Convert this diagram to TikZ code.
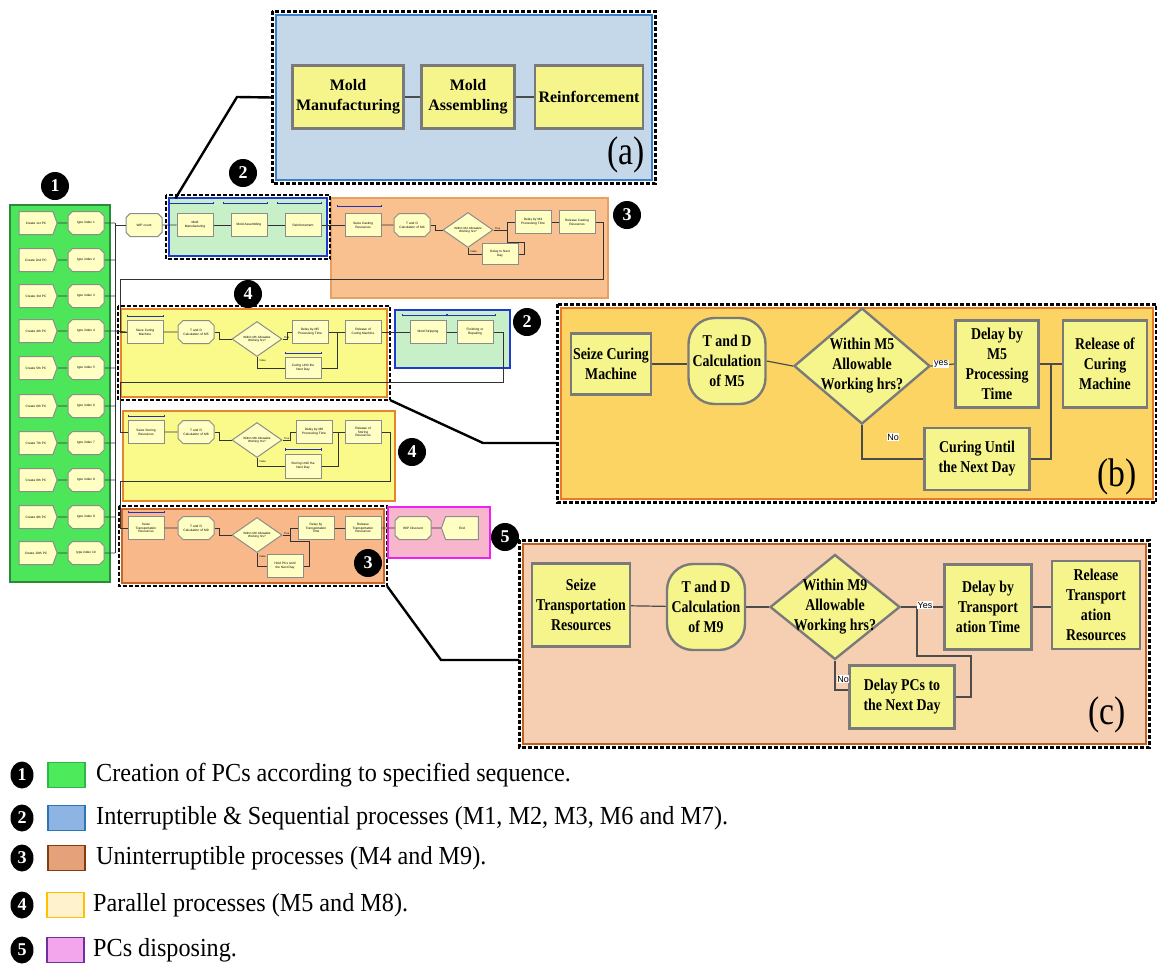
\documentclass[tikz,border=0pt]{standalone}
\usepackage{fontspec}
\setmainfont{Liberation Serif}
\newfontfamily\arialf{Liberation Sans}
\newfontfamily\condserif{Liberation Serif}[FakeStretch=0.84]
\newfontfamily\legserif{Liberation Serif}[FakeStretch=0.93]
\usetikzlibrary{shapes.geometric,shapes.misc,shapes.symbols,arrows.meta,calc}
\definecolor{gfill}{HTML}{4DE65A}
\definecolor{gline}{HTML}{2B8A3E}
\definecolor{afill}{HTML}{C5D8EA}
\definecolor{aline}{HTML}{3A7DC9}
\definecolor{lgfill}{HTML}{C8F0C8}
\definecolor{bluel}{HTML}{1E3ACF}
\definecolor{ofill}{HTML}{F9C18F}
\definecolor{oline}{HTML}{D2691E}
\definecolor{yfill}{HTML}{FAFA8A}
\definecolor{yline}{HTML}{E8842E}
\definecolor{rfill}{HTML}{F8B88A}
\definecolor{rline}{HTML}{C86428}
\definecolor{pfill}{HTML}{F7B6CB}
\definecolor{pline}{HTML}{F020F0}
\definecolor{bfill}{HTML}{FCD463}
\definecolor{bline}{HTML}{E8782A}
\definecolor{cfill}{HTML}{F6CFB2}
\definecolor{cline}{HTML}{C0601E}
\definecolor{bigfill}{HTML}{F5F58C}
\definecolor{biggray}{HTML}{7A7A7A}
\definecolor{minifill}{HTML}{FFFFC4}
\definecolor{minigray}{HTML}{8C8C8C}
\definecolor{wirec}{HTML}{333333}
\definecolor{barc}{HTML}{2030C0}
\definecolor{lgreenL}{HTML}{2DB84A}
\definecolor{lgreenF}{HTML}{4DEB5C}
\definecolor{lblueL}{HTML}{2E75B6}
\definecolor{lblueF}{HTML}{8DB4E2}
\definecolor{lbrownL}{HTML}{843C0C}
\definecolor{lbrownF}{HTML}{E5A27A}
\definecolor{lgoldL}{HTML}{FFC000}
\definecolor{lgoldF}{HTML}{FFF2CC}
\definecolor{lpurpL}{HTML}{7030A0}
\definecolor{lpurpF}{HTML}{F4A6EC}
\begin{document}
\begin{tikzpicture}[x=1pt,y=-1pt,
  mini/.style={draw=minigray, line width=1pt, fill=minifill, font=\arialf\fontsize{3.2}{3.7}\selectfont, align=center, inner sep=0.5pt, minimum width=36pt, minimum height=23pt, text width=33pt},
  minich/.style={mini, chamfered rectangle, chamfered rectangle xsep=2.5pt, chamfered rectangle ysep=2.5pt, text width=29pt},
  createp/.style={mini, signal, signal to=east, signal pointer angle=140, text width=26pt, minimum width=38pt},
  dispo/.style={mini, signal, signal to=west, signal pointer angle=140, text width=26pt, minimum width=37pt},
  minid/.style={draw=minigray, line width=1pt, fill=minifill, diamond, minimum width=50pt, minimum height=35pt, inner sep=0pt},
  minidt/.style={font=\arialf\fontsize{3}{3.5}\selectfont, align=center, inner sep=0pt, text width=30pt},
  wire/.style={draw=wirec, line width=0.8pt},
  tinyl/.style={font=\arialf\fontsize{2.6}{3}\selectfont, inner sep=0.3pt},
  bbar/.style={draw=barc, line width=0.8pt, {Bar[width=2.5pt]}-{Bar[width=2.5pt]}},
  big/.style={draw=biggray, line width=2.4pt, fill=bigfill, font=\condserif\bfseries\fontsize{16.5}{20}\selectfont, align=center, inner sep=1pt},
  biga/.style={big, font=\bfseries\fontsize{16}{20}\selectfont},
  bigw/.style={draw=black!70, line width=1.2pt},
  lab/.style={fill=white, font=\arialf\fontsize{9}{10}\selectfont, inner sep=0.6pt},
  frame/.style={line width=1.2pt, inner sep=0pt},
  dashf/.style={draw=black, line width=2.6pt, dash pattern=on 4pt off 2pt},
  badge/.style={circle, fill=black, text=white, font=\bfseries\fontsize{18}{18}\selectfont, inner sep=0pt, minimum size=28pt},
  lbadge/.style={ellipse, fill=black, text=white, font=\bfseries\fontsize{18}{18}\selectfont, inner sep=0pt, minimum width=23pt, minimum height=27pt},
  lsq/.style={line width=1.8pt, minimum width=37pt, minimum height=25pt, inner sep=0pt},
  ltext/.style={anchor=west, font=\legserif\fontsize{26}{27}\selectfont, inner sep=0pt},
  callout/.style={draw=black, line width=2.4pt},
  letter/.style={font=\condserif\fontsize{40}{40}\selectfont, inner sep=0pt}
]
\useasboundingbox (0,0) rectangle (1157,970);
\fill[white] (0,0) rectangle (1157,970);

% ---------- frames ----------
\node[frame, draw=gline, fill=gfill, minimum width=100pt, minimum height=377pt] (fg) at (60,393.5) {};
\node[frame, draw=ofill!60!oline, fill=ofill, minimum width=277pt, minimum height=100pt] (f3) at (469.5,248) {};
\node[frame, draw=bluel, fill=lgfill, minimum width=158pt, minimum height=58pt] (f2) at (248,227) {};
\draw[dashf] ([shift={(-2.5pt,2.5pt)}]f2.north west) rectangle ([shift={(2.5pt,-2.5pt)}]f2.south east);
\node[frame, draw=yline, fill=yfill, minimum width=266pt, minimum height=88pt] (f4) at (254,353) {};
\draw[dashf] ([shift={(-2.5pt,2.5pt)}]f4.north west) rectangle ([shift={(2.5pt,-2.5pt)}]f4.south east);
\node[frame, draw=bluel, fill=lgfill, minimum width=115pt, minimum height=58pt] (f6) at (452.5,339) {};
\node[frame, draw=yline, fill=yfill, minimum width=272pt, minimum height=90pt] (f8) at (259,456) {};
\node[frame, draw=rline, fill=rfill, minimum width=262pt, minimum height=74pt] (f9) at (253,546) {};
\draw[dashf] ([shift={(-2.5pt,2.5pt)}]f9.north west) rectangle ([shift={(2.5pt,-2.5pt)}]f9.south east);
\node[frame, draw=pline, fill=pfill, minimum width=102pt, minimum height=51pt] (f5) at (439,532.5) {};

\node[frame, draw=aline, fill=afill, minimum width=376pt, minimum height=165pt] (fa) at (464,97.5) {};
\draw[dashf] ([shift={(-3pt,3pt)}]fa.north west) rectangle ([shift={(3pt,-3pt)}]fa.south east);
\node[frame, draw=bline, fill=bfill, minimum width=592pt, minimum height=191pt] (fb) at (857,403.5) {};
\draw[dashf] ([shift={(-3pt,3pt)}]fb.north west) rectangle ([shift={(3pt,-3pt)}]fb.south east);
\node[frame, draw=cline, fill=cfill, minimum width=623pt, minimum height=200pt] (fc) at (834.5,644) {};
\draw[dashf] ([shift={(-3pt,3pt)}]fc.north west) rectangle ([shift={(3pt,-3pt)}]fc.south east);

% ---------- callouts ----------
\coordinate (ka) at (237,97);
\draw[callout] ([shift={(7pt,-1pt)}]f2.north west) -- (ka) -- ([xshift=-3pt]fa.west);
\coordinate (kb) at (483,443);
\draw[callout] ([shift={(2.5pt,-2.5pt)}]f4.south east) -- (kb) -- ([xshift=-3pt]kb -| fb.west);
\coordinate (kc) at (441,660);
\draw[callout] ([shift={(2.5pt,-2.5pt)}]f9.south east) -- (kc) -- ([xshift=-3pt]kc -| fc.west);

% ---------- left column ----------
\foreach \i/\y/\s in {1/223/1st,2/260/2nd,3/296/3rd,4/331/4th,5/368/5th,6/406/6th,7/443/7th,8/480/8th,9/517/9th,10/553/10th} {
  \node[createp] (cr\i) at (36,\y) {Create \s{} PC};
  \node[minich] (ti\i) at (86,\y) {type index \i};
  \coordinate (bus\i) at (115,\y);
  \draw[wire] (cr\i) -- (ti\i);
  \draw[wire] (ti\i) -- (bus\i);
}
\draw[wire] (bus1) -- (bus10);

% ---------- row 1 ----------
\node[minich] (wip) at (144,225) {WIP count};
\node[mini] (mm) at (195,225) {Mold\\Manufacturing};
\node[mini] (ma) at (249,225) {Mold Assembling};
\node[mini] (rf) at (303,225) {Reinforcement};
\node[mini] (sc) at (363,225) {Seize Casting\\Resources};
\node[minich] (td4) at (412,225) {T and D\\Calculation of M4};
\node[minid] (d4) at (468,230) {};
\node[minidt] (d4t) at (d4) {Within M4 Allowable\\Working hrs?};
\node[mini] (dl4) at (533,222) {Delay by M4\\Processing Time};
\node[mini] (rl4) at (577,222) {Release Casting\\Resources};
\node[mini, minimum height=21pt] (nd4) at (500,254) {Delay to Next\\Day};
\foreach \n/\s in {mm/10,ma/10,rf/10,sc/7} {
  \draw[bbar] ([shift={(-8pt,\s pt)}]\n.north west) -- ([shift={(0pt,\s pt)}]\n.north east);
}
\draw[wire] (bus1) |- (wip.west);
\draw[wire] (wip) -- (mm);
\draw[wire] (mm) -- (ma);
\draw[wire] (ma) -- (rf);
\draw[wire] (rf) -- (sc);
\draw[wire] (sc) -- (td4);
\draw[wire] (td4.east) -- ++(5pt,0) |- (d4.west);
\coordinate (j4) at (507,222);
\coordinate (j4b) at (507,242);
\draw[wire] (d4.east) -| (j4) -- (dl4.west);
\draw[wire] (d4.south) |- (nd4.west);
\draw[wire] (nd4.east) -- ++(6pt,0) |- (j4b) -- (j4);
\draw[wire] (dl4) -- (rl4);
\node[tinyl, anchor=south west] (d4y) at ([xshift=1pt]d4.east) {True};
\node[tinyl, anchor=west] (d4n) at ([shift={(2pt,-4pt)}]d4.south) {False};
\coordinate (r1b) at (603,279);
\coordinate (r1c) at (120,279);

% ---------- row 2 ----------
\node[mini] (s5) at (145,332) {Seize Curing\\Machine};
\node[minich] (td5) at (196,332) {T and D\\Calculation of M5};
\node[minid] (d5) at (257,339) {};
\node[minidt] (d5t) at (d5) {Within M5 Allowable\\Working hrs?};
\node[mini] (dl5) at (310,332) {Delay by M5\\Processing Time};
\node[mini] (rl5) at (363,332) {Release of\\Curing Machine};
\node[mini, minimum height=21pt] (cu5) at (303,368) {Curing Until the\\Next Day};
\node[mini] (ms) at (428,332) {Mold Stripping};
\node[mini] (fr) at (475,332) {Finishing or\\Repairing};
\draw[bbar] ([yshift=4pt]s5.north west) -- ([yshift=4pt]s5.north east);
\draw[bbar] ([yshift=4pt]cu5.north west) -- ([yshift=4pt]cu5.north east);
\draw[bbar] ([shift={(-8pt,5pt)}]ms.north west) -- ([yshift=5pt]ms.north east);
\draw[bbar] ([yshift=5pt]ms.north east) -- ([shift={(2pt,5pt)}]fr.north east);
\draw[wire] (rl4.east) -| (r1b) -- (r1c) |- (s5.west);
\draw[wire] (bus4) -- (s5.west);
\draw[wire] (s5) -- (td5);
\draw[wire] (td5.east) -- ++(5pt,0) |- (d5.west);
\coordinate (j5) at (287,332);
\coordinate (j5b) at (337,332);
\draw[wire] (d5.east) -| (j5) -- (dl5.west);
\draw[wire] (d5.south) |- (cu5.west);
\draw[wire] (cu5.east) -| (j5b);
\draw[wire] (dl5) -- (rl5);
\draw[wire] (rl5) -- (ms);
\draw[wire] (ms) -- (fr);
\node[tinyl, anchor=south west] (d5y) at ([xshift=1pt]d5.east) {True};
\node[tinyl, anchor=west] (d5n) at ([shift={(2pt,-4pt)}]d5.south) {False};
\coordinate (r2b) at (503,382);
\coordinate (r2c) at (120,382);

% ---------- row 3 ----------
\node[mini] (s8) at (146,432) {Seize Storing\\Resources};
\node[minich] (td8) at (196,432) {T and D\\Calculation of M8};
\node[minid] (d8) at (257,440) {};
\node[minidt] (d8t) at (d8) {Within M8 Allowable\\Working hrs?};
\node[mini] (dl8) at (314,432) {Delay by M8\\Processing Time};
\node[mini] (rl8) at (363,432) {Release of\\Storing\\Resources};
\node[mini, minimum height=24pt] (st8) at (303,466) {Storing Until the\\Next Day};
\draw[bbar] ([yshift=4pt]s8.north west) -- ([yshift=4pt]s8.north east);
\draw[bbar] ([yshift=4pt]st8.north west) -- ([yshift=4pt]st8.north east);
\draw[wire] (fr.east) -| (r2b) -- (r2c) |- (s8.west);
\draw[wire] (s8) -- (td8);
\draw[wire] (td8.east) -- ++(5pt,0) |- (d8.west);
\coordinate (j8) at (290,432);
\coordinate (j8b) at (338,432);
\draw[wire] (d8.east) -| (j8) -- (dl8.west);
\draw[wire] (d8.south) |- (st8.west);
\draw[wire] (st8.east) -| (j8b);
\draw[wire] (dl8) -- (rl8);
\node[tinyl, anchor=south west] (d8y) at ([xshift=1pt]d8.east) {True};
\node[tinyl, anchor=west] (d8n) at ([shift={(2pt,-4pt)}]d8.south) {False};
\coordinate (r3b) at (390,481);
\coordinate (r3c) at (120,481);

% ---------- row 4 ----------
\node[mini] (s9) at (146,528) {Seize\\Transportation\\Resources};
\node[minich] (td9) at (196,528) {T and D\\Calculation of M9};
\node[minid] (d9) at (257,535) {};
\node[minidt] (d9t) at (d9) {Within M9 Allowable\\Working hrs?};
\node[mini] (dl9) at (316,528) {Delay by\\Transportation\\Time};
\node[mini] (rl9) at (363,528) {Release\\Transportation\\Resources};
\node[mini] (hp9) at (285,566) {Hold PCs Until\\the Next Day};
\node[minich] (wd) at (413,528) {WIP Discount};
\node[dispo] (endn) at (462,528) {End};
\draw[bbar] ([yshift=4pt]s9.north west) -- ([yshift=4pt]s9.north east);
\draw[wire] (rl8.east) -| (r3b) -- (r3c) |- (s9.west);
\draw[wire] (s9) -- (td9);
\draw[wire] (td9.east) -- ++(5pt,0) |- (d9.west);
\coordinate (j9) at (290,528);
\coordinate (j9b) at (290,541);
\draw[wire] (d9.east) -| (j9) -- (dl9.west);
\draw[wire] (d9.south) |- (hp9.west);
\draw[wire] (hp9.east) -- ++(6pt,0) |- (j9b) -- (j9);
\draw[wire] (dl9) -- (rl9);
\draw[wire] (rl9) -- (wd);
\draw[wire] (wd) -- (endn);
\node[tinyl, anchor=south west] (d9y) at ([xshift=1pt]d9.east) {True};
\node[tinyl, anchor=west] (d9n) at ([shift={(2pt,-4pt)}]d9.south) {False};

% ---------- (a) ----------
\node[biga, minimum width=111pt, minimum height=63pt] (am) at (348,97) {Mold\\Manufacturing};
\node[biga, minimum width=93pt, minimum height=63pt] (aa) at (468,97) {Mold\\Assembling};
\node[biga, minimum width=108pt, minimum height=63pt] (ar) at (589,97) {Reinforcement};
\draw[bigw] (am) -- (aa);
\draw[bigw] (aa) -- (ar);
\node[letter] (la) at (626,155) {(a)};

% ---------- (b) ----------
\node[big, minimum width=80pt, minimum height=61pt] (bs) at (611,364) {Seize Curing\\Machine};
\node[big, rounded corners=26pt, minimum width=77pt, minimum height=86pt] (btd) at (727,361) {T and D\\Calculation\\of M5};
\node[big, diamond, inner sep=0pt, minimum width=136pt, minimum height=116pt] (bd) at (862,366) {};
\node[font=\condserif\bfseries\fontsize{16.5}{20}\selectfont, align=center, inner sep=0pt] (bdt) at (bd) {Within M5\\Allowable\\Working hrs?};
\node[big, minimum width=83pt, minimum height=87pt] (bdl) at (997,364) {Delay by\\M5\\Processing\\Time};
\node[big, minimum width=84pt, minimum height=87pt] (brl) at (1105,364) {Release of\\Curing\\Machine};
\node[big, minimum width=105pt, minimum height=62pt] (bcu) at (977,459) {Curing Until\\the Next Day};
\draw[bigw] (bs.east) -- (bs.east -| btd.west);
\draw[bigw] (btd.east) -- (bd.west);
\draw[bigw] (bd.east) -- (bdl.west);
\draw[bigw] (bdl) -- (brl);
\coordinate (jb) at (1051,364);
\draw[bigw] (bd.south) |- (bcu.west);
\draw[bigw] (bcu.east) -| (jb);
\node[lab] (yb) at (941,364) {yes};
\node[lab] (nb) at (893,437) {No};
\node[letter] (lb) at (1117,477) {(b)};

% ---------- (c) ----------
\node[big, minimum width=98pt, minimum height=83pt] (cs) at (581,605) {Seize\\Transportation\\Resources};
\node[big, rounded corners=26pt, minimum width=78pt, minimum height=86pt] (ctd) at (706,607) {T and D\\Calculation\\of M9};
\node[big, diamond, inner sep=0pt, minimum width=130pt, minimum height=105pt] (cd) at (835,607) {};
\node[font=\condserif\bfseries\fontsize{16.5}{20}\selectfont, align=center, inner sep=0pt] (cdt) at (cd) {Within M9\\Allowable\\Working hrs?};
\node[big, minimum width=87pt, minimum height=85pt] (cdl) at (988,607) {Delay by\\Transport\\ation Time};
\node[big, minimum width=88pt, minimum height=88pt] (crl) at (1096,605) {Release\\Transport\\ation\\Resources};
\node[big, minimum width=105pt, minimum height=63pt] (cdp) at (902,697) {Delay PCs to\\the Next Day};
\draw[bigw] (cs) -- (ctd);
\draw[bigw] (ctd) -- (cd);
\draw[bigw] (cd) -- (cdl);
\draw[bigw] (cdl.east) -- (cdl.east -| crl.west);
\coordinate (jc) at (917,607);
\coordinate (jc2) at (971,656);
\draw[bigw] (jc) -- (jc |- jc2) -- (jc2) |- (cdp.east);
\draw[bigw] (cd.south) |- ([yshift=7pt]cdp.west);
\node[lab] (yc) at (925,605) {Yes};
\node[lab] (nc) at (843,679) {No};
\node[letter] (lc) at (1107,715) {(c)};

% ---------- badges ----------
\node[badge] (b1) at (55,186) {1};
\node[badge] (b2) at (243,173) {2};
\node[badge] (b3) at (627,215) {3};
\node[badge] (b4) at (248,294) {4};
\node[badge] (b2b) at (527,322) {2};
\node[badge] (b4b) at (412,452) {4};
\node[badge] (b3b) at (368,563) {3};
\node[badge] (b5) at (505,537) {5};

% ---------- legend ----------
\node[lbadge] (lb1) at (22,775) {1};
\node[lsq, draw=lgreenL, fill=lgreenF] (ls1) at (66.5,775) {};
\node[ltext] (lt1) at (96,775) {Creation of PCs according to specified sequence.};
\node[lbadge] (lb2) at (22,818) {2};
\node[lsq, draw=lblueL, fill=lblueF] (ls2) at (66.5,818) {};
\node[ltext] (lt2) at (96,818) {Interruptible \& Sequential processes (M1, M2, M3, M6 and M7).};
\node[lbadge] (lb3) at (22,858) {3};
\node[lsq, draw=lbrownL, fill=lbrownF] (ls3) at (66.5,858) {};
\node[ltext] (lt3) at (96,858) {Uninterruptible processes (M4 and M9).};
\node[lbadge] (lb4) at (22,905) {4};
\node[lsq, draw=lgoldL, fill=lgoldF] (ls4) at (65.5,905) {};
\node[ltext] (lt4) at (93,905) {Parallel processes (M5 and M8).};
\node[lbadge] (lb5) at (22,950) {5};
\node[lsq, draw=lpurpL, fill=lpurpF] (ls5) at (65.5,950) {};
\node[ltext] (lt5) at (93,950) {PCs disposing.};
\end{tikzpicture}
\end{document}
